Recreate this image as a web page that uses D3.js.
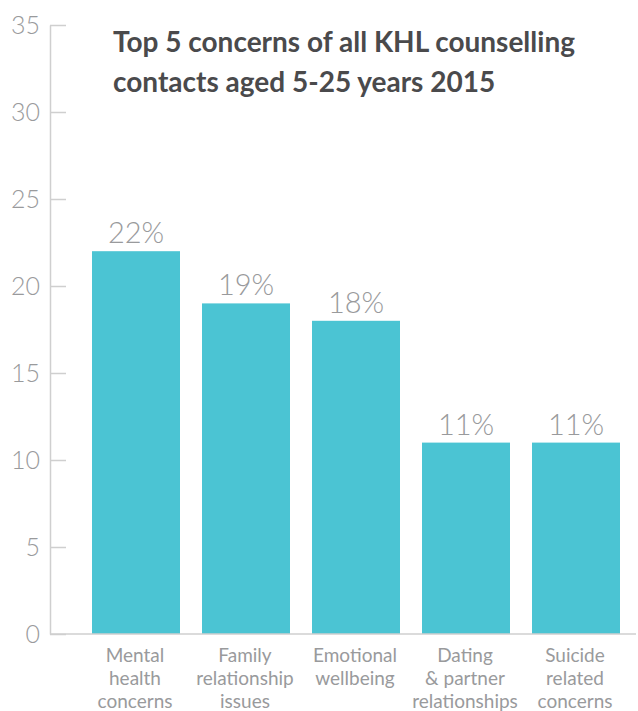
<!DOCTYPE html>
<html>
<head>
<meta charset="utf-8">
<script src="https://cdn.jsdelivr.net/npm/d3@7"></script>
<style>
  html, body { margin: 0; padding: 0; background: #fff; }
  svg { display: block; }
</style>
</head>
<body>
<svg id="chart" width="638" height="711"></svg>
<script>
const categories = [
  ["Mental", "health", "concerns"],
  ["Family", "relationship", "issues"],
  ["Emotional", "wellbeing"],
  ["Dating", "& partner", "relationships"],
  ["Suicide", "related", "concerns"]
];
const values = [22, 19, 18, 11, 11];
const valueLabels = ["22%", "19%", "18%", "11%", "11%"];
const yTicks = [0, 5, 10, 15, 20, 25, 30, 35];
const titleLines = ["Top 5 concerns of all KHL counselling", "contacts aged 5-25 years 2015"];

const svg = d3.select("#chart");
const barColor = "#4bc4d3";
const textGray = "#999a9c";
const axisGray = "#cfcfcf";

const x = d3.scaleBand()
  .domain(d3.range(values.length))
  .range([81, 631])
  .paddingInner(0.2)
  .paddingOuter(0.1);

const y = d3.scaleLinear().domain([0, 35]).range([634, 25]);

// y axis
const yAxis = d3.axisLeft(y).tickValues(yTicks).tickSize(0).tickPadding(10);
const gy = svg.append("g").attr("transform", "translate(50,0)").call(yAxis);
gy.select(".domain").attr("stroke", axisGray).attr("stroke-width", 1.5);
gy.selectAll(".tick text")
  .attr("fill", textGray)
  .attr("font-family", "Lato, 'Open Sans', sans-serif")
  .attr("font-weight", 300)
  .attr("font-size", 25)
  .attr("dy", "0.35em");
gy.selectAll(".tick").append("line")
  .attr("x1", 0).attr("x2", 16)
  .attr("stroke", axisGray).attr("stroke-width", 1.5);

// bars
svg.append("g").selectAll("rect")
  .data(values)
  .join("rect")
  .attr("x", (d, i) => x(i))
  .attr("y", d => y(d))
  .attr("width", x.bandwidth())
  .attr("height", d => y(0) - y(d))
  .attr("fill", barColor);

// baseline
svg.append("line")
  .attr("x1", 50).attr("x2", 636)
  .attr("y1", y(0)).attr("y2", y(0))
  .attr("stroke", axisGray).attr("stroke-width", 1.5);

// value labels
svg.append("g").selectAll("text")
  .data(values)
  .join("text")
  .attr("x", (d, i) => x(i) + x.bandwidth() / 2)
  .attr("y", d => y(d) - 8)
  .attr("text-anchor", "middle")
  .attr("fill", textGray)
  .attr("font-family", "Lato, 'Open Sans', sans-serif")
  .attr("font-weight", 300)
  .attr("font-size", 29)
  .text((d, i) => valueLabels[i]);

// category labels
const cat = svg.append("g").selectAll("text")
  .data(categories)
  .join("text")
  .attr("text-anchor", "middle")
  .attr("fill", textGray)
  .attr("font-family", "Lato, 'Open Sans', sans-serif")
  .attr("font-weight", 400)
  .attr("font-size", 19);
cat.each(function(lines, i) {
  const t = d3.select(this);
  lines.forEach((ln, j) => {
    t.append("tspan")
      .attr("x", x(i) + x.bandwidth() / 2 - 1)
      .attr("y", 662 + j * 23)
      .text(ln);
  });
});

// title
svg.append("g").selectAll("text")
  .data(titleLines)
  .join("text")
  .attr("x", 113)
  .attr("y", (d, i) => 52 + i * 40)
  .attr("fill", "#4a4a4c")
  .attr("font-family", "Lato, 'Open Sans', sans-serif")
  .attr("font-weight", 700)
  .attr("font-size", 28)
  .text(d => d);
</script>
</body>
</html>
